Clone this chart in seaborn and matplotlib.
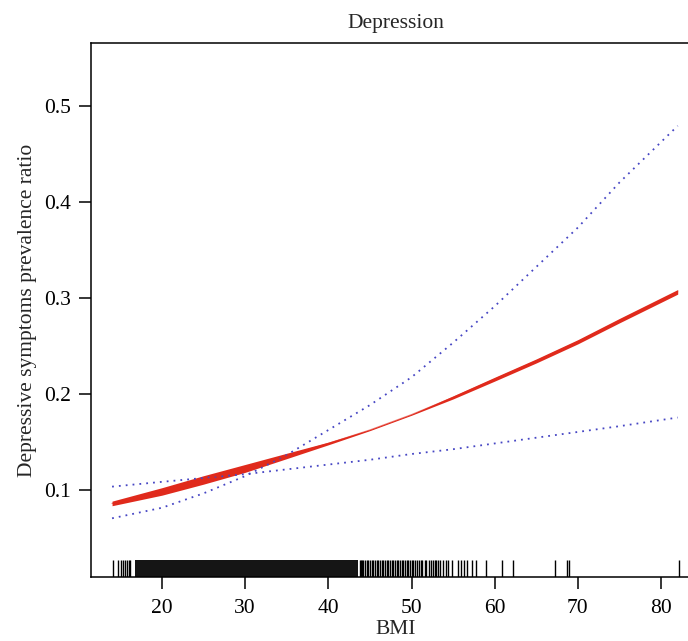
import numpy as np
import pandas as pd
import matplotlib
matplotlib.use("Agg")
import matplotlib.pyplot as plt
import seaborn as sns

bmi = [14, 20, 25, 30, 35, 40, 45, 50, 55, 60, 65, 70, 75, 82]
# estimated prevalence ratio (red line) and the two dotted confidence bounds
ratio = [0.0855, 0.098, 0.110, 0.122, 0.135, 0.148, 0.162, 0.178, 0.196,
         0.215, 0.234, 0.254, 0.276, 0.306]
bound_flat = [0.103, 0.108, 0.112, 0.116, 0.121, 0.126, 0.131, 0.137, 0.142,
              0.148, 0.154, 0.160, 0.166, 0.175]
bound_steep = [0.070, 0.081, 0.096, 0.114, 0.136, 0.162, 0.188, 0.217, 0.253,
               0.291, 0.332, 0.373, 0.420, 0.479]

# the red line is not drawn with a constant width: half thickness per grid point
red_half = [0.0024, 0.0039, 0.0044, 0.0041, 0.0028, 0.0014, 0.0006, 0.0006,
            0.0016, 0.0020, 0.0021, 0.0022, 0.0023, 0.0024]

# rug of observed BMI values: single ticks plus the saturated core block
rug_single = [14.15, 14.75, 15.1, 15.3, 15.6, 15.8, 16.0, 16.2,
              43.8, 43.9, 44.0, 44.2, 44.4, 44.6, 44.8, 45.0, 45.2, 45.4,
              45.6, 45.8, 46.0, 46.2, 46.4, 46.6, 46.8, 47.0, 47.2, 47.4,
              47.6, 47.8, 48.0, 48.2, 48.4, 48.6, 48.8, 49.0, 49.2, 49.4,
              49.6, 49.8, 50.0, 50.2, 50.4, 50.7, 50.9, 51.1, 51.3, 51.6,
              51.8, 52.1, 52.3, 52.6, 52.8, 53.0, 53.2, 53.4, 53.8, 54.1,
              54.4, 54.9, 55.6, 56.0, 56.3, 56.7, 57.3, 57.7, 58.9, 60.9,
              62.2, 67.3, 68.7, 68.9, 82.1]
rug_core = [16.8, 43.6]

yticks = [0.1, 0.2, 0.3, 0.4, 0.5]
xticks = [20, 30, 40, 50, 60, 70, 80]

df = pd.DataFrame({"BMI": bmi, "ratio": ratio,
                   "lo": bound_flat, "hi": bound_steep})

sns.set_theme(style="white")
plt.rcParams["font.family"] = ["Liberation Serif", "DejaVu Serif"]

fig = plt.figure(figsize=(6.88, 6.41), dpi=100)
ax = fig.add_axes([0.1323, 0.0998, 0.8866, 0.8331])

red = "#e02a1c"
blue = "#4646c4"
fs = 15.5

sns.lineplot(data=df, x="BMI", y="lo", ax=ax, color=blue, lw=1.3,
             linestyle=(0, (1, 2.8)))
sns.lineplot(data=df, x="BMI", y="hi", ax=ax, color=blue, lw=1.3,
             linestyle=(0, (1, 2.8)))
sns.lineplot(data=df, x="BMI", y="ratio", ax=ax, color=red, lw=0.9, alpha=0.6)
r = np.array(ratio)
h = np.array(red_half)
ax.fill_between(bmi, r - h, r + h, color=red, lw=0)

sns.rugplot(x=rug_single, ax=ax, height=0.031, color="black", lw=1.1)
ax.axvspan(rug_core[0], rug_core[1], ymin=0, ymax=0.031, color="#151515", lw=0)

ax.set_xlim(11.47, 84.8)
ax.set_ylim(0.0088, 0.5653)
ax.set_xticks(xticks)
ax.set_xticklabels([str(t) for t in xticks])
ax.set_yticks(yticks)
ax.set_yticklabels([str(t) for t in yticks])

for s in ax.spines.values():
    s.set_color("black")
    s.set_linewidth(1.1)

ax.tick_params(axis="both", direction="out", length=8.6, width=1.1,
               colors="black", labelsize=fs, pad=6,
               bottom=True, left=True)
ax.tick_params(axis="x", pad=7)

ax.set_xlabel("BMI", fontsize=fs, labelpad=2)
ax.set_ylabel("Depressive symptoms prevalence ratio", fontsize=fs, labelpad=5)
ax.set_title("Depression", fontsize=fs, pad=11)

fig.savefig("out.png", dpi=100)
